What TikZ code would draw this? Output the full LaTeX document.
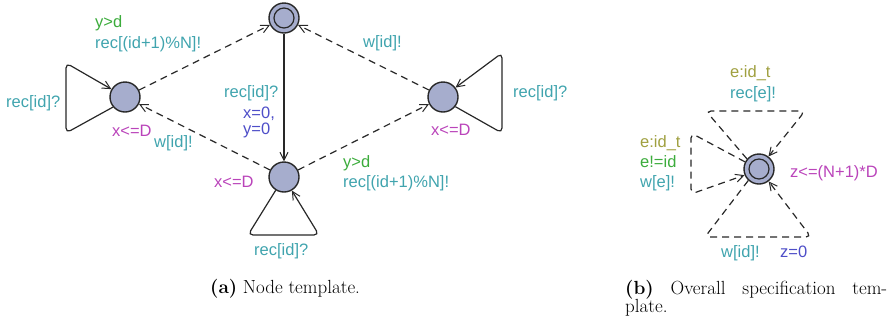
\documentclass[tikz,border=0pt]{standalone}
\usepackage{fontspec}
\newfontfamily\lbl{Liberation Sans}
\usetikzlibrary{arrows.meta}
\definecolor{synccol}{RGB}{64,164,174}
\definecolor{guardcol}{RGB}{60,172,60}
\definecolor{updcol}{RGB}{78,78,200}
\definecolor{invcol}{RGB}{186,68,186}
\definecolor{selcol}{RGB}{160,160,64}
\definecolor{locfill}{RGB}{166,173,205}
\definecolor{edgecol}{RGB}{40,40,40}
\begin{document}
\begin{tikzpicture}[x=1pt,y=-1pt,
  loc/.style={circle,draw=edgecol,line width=1.4pt,fill=locfill,minimum size=30pt,inner sep=0pt},
  edge/.style={draw=edgecol,line width=1.2pt,-{Straight Barb[length=8pt,width=8pt,line width=1pt]}},
  dsh/.style={edge,dash pattern=on 7pt off 5pt},
  lab/.style={font=\lbl\fontsize{16.5}{19}\selectfont,inner sep=0pt,anchor=base west},
  captxt/.style={font=\fontsize{19}{22}\selectfont,inner sep=0pt,anchor=base west}]
\useasboundingbox (0,0) rectangle (896,325);

% ---------- (a) Node template ----------
\node[loc] (T) at (284,18) {};
\draw[edgecol,line width=1.2pt] (T) circle[radius=10];
\node[loc] (L) at (125,97) {};
\node[loc] (R) at (443,97) {};
\node[loc] (B) at (284,177) {};

\draw[edge] (T) -- (B);
\draw[dsh] (L) -- (T);
\draw[dsh] (R) -- (T);
\draw[dsh] (B) -- (L);
\draw[dsh] (B) -- (R);

\draw[edge,rounded corners=5pt] (L.220) -- (66,133) -- (66,63) -- (L.150);
\draw[edge,rounded corners=5pt] (R.-38) -- (502,133) -- (502,53) -- (R.37);
\draw[edge,rounded corners=5pt] (B.-122) -- (248,235) -- (319,235) -- (B.-60);

\node[lab,text=guardcol] (g1) at (95,27) {y>d};
\node[lab,text=synccol] (s1) at (95,48) {rec[(id+1)\%N]!};
\node[lab,text=synccol] (s2) at (6,107) {rec[id]?};
\node[lab,text=synccol] (s3) at (224,97) {rec[id]?};
\node[lab,text=updcol] (u1) at (243,118) {x=0,};
\node[lab,text=updcol] (u2) at (243,134) {y=0};
\node[lab,text=invcol] (i1) at (112,136) {x<=D};
\node[lab,text=synccol] (s4) at (154,147) {w[id]!};
\node[lab,text=synccol] (s5) at (363,47) {w[id]!};
\node[lab,text=synccol] (s6) at (513,97) {rec[id]?};
\node[lab,text=invcol] (i2) at (431,135) {x<=D};
\node[lab,text=guardcol] (g2) at (343,167) {y>d};
\node[lab,text=synccol] (s7) at (343,187) {rec[(id+1)\%N]!};
\node[lab,text=invcol] (i3) at (214,187) {x<=D};
\node[lab,text=synccol] (s8) at (254,255) {rec[id]?};

\node[captxt] (ca) at (210,293) {\textbf{(a)} Node template.};

% ---------- (b) Overall specification template ----------
\node[loc] (S) at (759,169) {};
\draw[edgecol,line width=1.2pt] (S) circle[radius=10];

\draw[dsh,rounded corners=5pt] (S.140) -- (706,111) -- (805,111) -- (S.53);
\draw[dsh,rounded corners=5pt] (S.153) -- (691,133) -- (691,194) -- (S.-157);
\draw[dsh,rounded corners=5pt] (S.-133) -- (705,237) -- (811,237) -- (S.-52);

\node[lab,text=selcol] (e1) at (730,77) {e:id\_t};
\node[lab,text=synccol] (e2) at (730,98) {rec[e]!};
\node[lab,text=selcol] (e3) at (640,147) {e:id\_t};
\node[lab,text=guardcol] (e4) at (640,167) {e!=id};
\node[lab,text=synccol] (e5) at (640,187) {w[e]!};
\node[lab,text=invcol] (e6) at (790,177) {z<=(N+1)*D};
\node[lab,text=synccol] (e7) at (721,257) {w[id]!};
\node[lab,text=updcol] (e8) at (780,257) {z=0};

\node[captxt] (cb1) at (625,294) {\makebox[262pt][s]{\textbf{(b)} Overall specification tem-}};
\node[captxt] (cb2) at (625,312) {plate.};
\end{tikzpicture}
\end{document}
